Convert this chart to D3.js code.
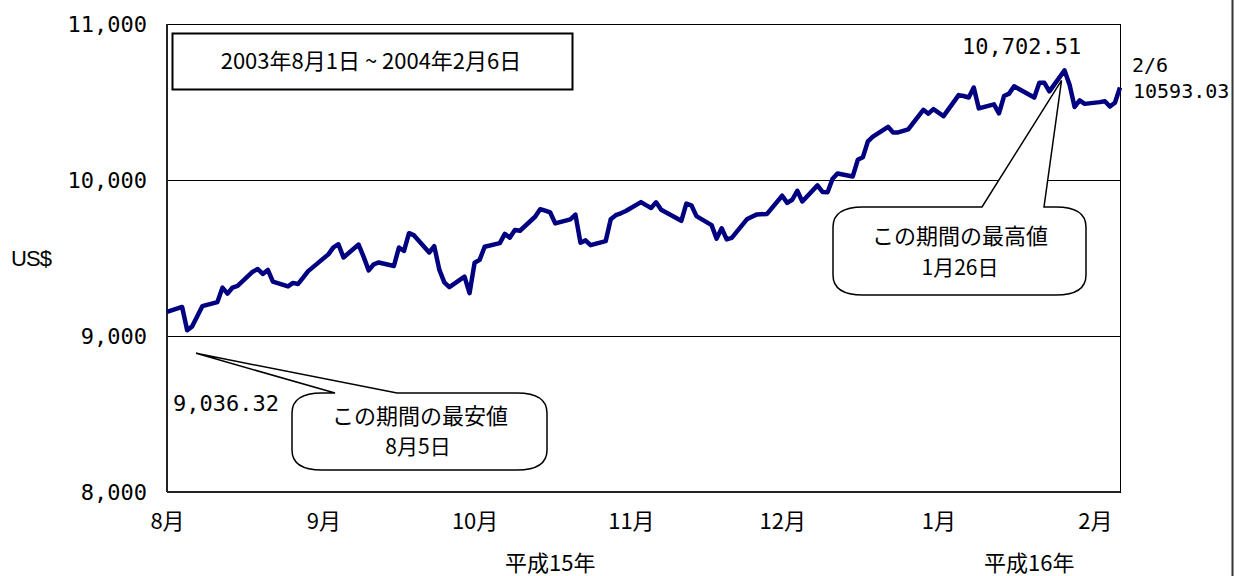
<!DOCTYPE html>
<html>
<head>
<meta charset="utf-8">
<script src="https://cdn.jsdelivr.net/npm/d3@7"></script>
<style>
  body { margin: 0; background: #fff; }
  svg { display: block; }
  .mono { font-family: "DejaVu Sans Mono", "Liberation Mono", monospace; }
  .jp { font-family: "Noto Sans CJK JP", "Noto Sans", sans-serif; }
</style>
</head>
<body>
<svg id="mainSVG"></svg>
<script>
// DJIA daily closes, 2003/8/1 - 2004/2/6
let dates = [
  "2003-08-01","2003-08-04","2003-08-05","2003-08-06","2003-08-07","2003-08-08","2003-08-11","2003-08-12","2003-08-13","2003-08-14",
  "2003-08-15","2003-08-18","2003-08-19","2003-08-20","2003-08-21","2003-08-22","2003-08-25","2003-08-26","2003-08-27","2003-08-28",
  "2003-08-29","2003-09-02","2003-09-03","2003-09-04","2003-09-05","2003-09-08","2003-09-09","2003-09-10","2003-09-11","2003-09-12",
  "2003-09-15","2003-09-16","2003-09-17","2003-09-18","2003-09-19","2003-09-22","2003-09-23","2003-09-24","2003-09-25","2003-09-26",
  "2003-09-29","2003-09-30","2003-10-01","2003-10-02","2003-10-03","2003-10-06","2003-10-07","2003-10-08","2003-10-09","2003-10-10",
  "2003-10-13","2003-10-14","2003-10-15","2003-10-16","2003-10-17","2003-10-20","2003-10-21","2003-10-22","2003-10-23","2003-10-24",
  "2003-10-27","2003-10-28","2003-10-29","2003-10-30","2003-10-31","2003-11-03","2003-11-04","2003-11-05","2003-11-06","2003-11-07",
  "2003-11-10","2003-11-11","2003-11-12","2003-11-13","2003-11-14","2003-11-17","2003-11-18","2003-11-19","2003-11-20","2003-11-21",
  "2003-11-24","2003-11-25","2003-11-26","2003-11-28","2003-12-01","2003-12-02","2003-12-03","2003-12-04","2003-12-05","2003-12-08",
  "2003-12-09","2003-12-10","2003-12-11","2003-12-12","2003-12-15","2003-12-16","2003-12-17","2003-12-18","2003-12-19","2003-12-22",
  "2003-12-23","2003-12-24","2003-12-26","2003-12-29","2003-12-30","2003-12-31","2004-01-02","2004-01-05","2004-01-06","2004-01-07",
  "2004-01-08","2004-01-09","2004-01-12","2004-01-13","2004-01-14","2004-01-15","2004-01-16","2004-01-20","2004-01-21","2004-01-22",
  "2004-01-23","2004-01-26","2004-01-27","2004-01-28","2004-01-29","2004-01-30","2004-02-02","2004-02-03","2004-02-04","2004-02-05",
  "2004-02-06"
]
let closes = [
  9153.97, 9186.04, 9036.32, 9061.74, 9126.45, 9191.09, 9217.35, 9310.06, 9271.76, 9310.56,
  9321.69, 9412.45, 9428.90, 9397.51, 9423.68, 9348.87, 9317.64, 9340.45, 9333.79, 9374.21,
  9415.82, 9523.27, 9568.46, 9587.90, 9503.34, 9586.29, 9507.20, 9420.46, 9459.76, 9471.55,
  9448.81, 9567.34, 9545.65, 9659.13, 9644.82, 9535.41, 9576.04, 9425.51, 9343.96, 9313.08,
  9380.24, 9275.06, 9469.20, 9487.80, 9572.31, 9594.98, 9654.61, 9630.90, 9680.01, 9674.68,
  9764.38, 9812.98, 9803.05, 9791.72, 9721.79, 9747.64, 9777.94, 9598.24, 9613.13, 9582.46,
  9608.16, 9748.31, 9774.53, 9786.61, 9801.12, 9858.46, 9838.83, 9820.83, 9856.97, 9809.79,
  9756.53, 9737.79, 9848.83, 9837.94, 9768.68, 9710.83, 9624.16, 9690.46, 9619.42, 9628.53,
  9747.79, 9763.94, 9779.57, 9782.46, 9899.05, 9853.64, 9873.42, 9930.82, 9862.68, 9965.27,
  9923.42, 9921.86, 10008.16, 10042.16, 10022.82, 10129.56, 10145.26, 10248.08, 10278.22, 10341.26,
  10305.19, 10305.19, 10324.67, 10450.00, 10425.04, 10453.92, 10409.85, 10544.07, 10538.66, 10529.03,
  10592.44, 10458.89, 10485.18, 10427.18, 10538.37, 10553.85, 10600.51, 10528.66, 10623.62, 10623.18,
  10568.29, 10702.51, 10609.92, 10468.37, 10510.29, 10488.07, 10499.18, 10505.18, 10470.74, 10495.55,
  10593.03
]
let yTicks = [8000, 9000, 10000, 11000]
let monthTicks = ["2003-08-01","2003-09-01","2003-10-01","2003-11-01","2003-12-01","2004-01-01","2004-02-01"]
let monthLabels = ["8月","9月","10月","11月","12月","1月","2月"]
let eraLabels = ["平成15年","平成16年"]
let eraDates = ["2003-10-16","2004-01-19"]

let W = 1241, H = 576
let m = {t: 24, r: 121, b: 84, l: 167}
let parse = d3.timeParse("%Y-%m-%d")
let data = dates.map((d, i) => ({date: parse(d), value: closes[i]}))

let svg = d3.select('#mainSVG').attr('width', W).attr('height', H)

let x = d3.scaleTime()
  .domain([parse("2003-08-01"), parse("2004-02-06")])
  .range([m.l, W - m.r])
let y = d3.scaleLinear()
  .domain([8000, 11000])
  .range([H - m.b, m.t])

// outer frame line on the right
svg.append('line')
  .attr('x1', 1232.5).attr('x2', 1232.5).attr('y1', 0).attr('y2', H)
  .attr('stroke', '#333').attr('stroke-width', 2)

// gridlines
svg.append('g')
  .selectAll('line')
  .data(yTicks.slice(1, -1))
  .join('line')
  .attr('x1', m.l).attr('x2', W - m.r)
  .attr('y1', d => Math.round(y(d)) + 0.5).attr('y2', d => Math.round(y(d)) + 0.5)
  .attr('stroke', '#000').attr('stroke-width', 1)

// plot border
svg.append('rect')
  .attr('x', m.l + 0.5).attr('y', m.t + 0.5)
  .attr('width', W - m.r - m.l).attr('height', H - m.b - m.t)
  .attr('fill', 'none').attr('stroke', '#000').attr('stroke-width', 1)
svg.append('line')
  .attr('x1', m.l).attr('x2', m.l).attr('y1', m.t).attr('y2', H - m.b)
  .attr('stroke', '#222').attr('stroke-width', 2)
svg.append('line')
  .attr('x1', m.l).attr('x2', W - m.r).attr('y1', H - m.b).attr('y2', H - m.b)
  .attr('stroke', '#222').attr('stroke-width', 2)

// y axis labels
let yAxis = svg.append('g')
  .attr('transform', `translate(${m.l}, 0)`)
  .call(d3.axisLeft(y).tickValues(yTicks).tickFormat(d3.format(',')).tickSize(0).tickPadding(20))
yAxis.select('.domain').remove()
yAxis.selectAll('text')
  .attr('class', 'mono')
  .attr('font-size', 22).attr('fill', '#000')

svg.append('text')
  .attr('x', 11).attr('y', 258).attr('dy', '0.35em')
  .attr('font-family', '"Liberation Sans", Arial, sans-serif')
  .attr('font-size', 22)
  .attr('textLength', 41)
  .text('US$')

// x axis month labels
let xAxis = svg.append('g')
  .attr('transform', `translate(0, ${H - m.b})`)
  .call(d3.axisBottom(x).tickValues(monthTicks.map(parse))
    .tickFormat((d, i) => monthLabels[i]).tickSize(0).tickPadding(21))
xAxis.select('.domain').remove()
xAxis.selectAll('text')
  .attr('class', 'jp')
  .attr('font-size', 22).attr('fill', '#000')

svg.append('g')
  .selectAll('text')
  .data(eraLabels)
  .join('text')
  .attr('class', 'jp')
  .attr('x', (d, i) => x(parse(eraDates[i])))
  .attr('y', 563).attr('dy', '0.35em')
  .attr('text-anchor', 'middle')
  .attr('font-size', 22)
  .text(d => d)

// period box
svg.append('rect')
  .attr('x', 172.5).attr('y', 33.5).attr('width', 400).attr('height', 56)
  .attr('fill', '#fff').attr('stroke', '#000').attr('stroke-width', 2)
svg.append('text')
  .attr('class', 'jp')
  .attr('x', 371).attr('y', 61).attr('dy', '0.35em')
  .attr('text-anchor', 'middle').attr('font-size', 22)
  .text('2003年8月1日 ~ 2004年2月6日')

// callouts
function calloutPath(x0, y0, x1, y1, rx, ry, a, b, tx, ty) {
  return `M${x0 + rx},${y0} L${a},${y0} L${tx},${ty} L${b},${y0} L${x1 - rx},${y0}
    Q${x1},${y0} ${x1},${y0 + ry} L${x1},${y1 - ry} Q${x1},${y1} ${x1 - rx},${y1}
    L${x0 + rx},${y1} Q${x0},${y1} ${x0},${y1 - ry} L${x0},${y0 + ry} Q${x0},${y0} ${x0 + rx},${y0} Z`
}

let lo = data.reduce((p, c) => c.value < p.value ? c : p)
let hi = data.reduce((p, c) => c.value > p.value ? c : p)
let last = data[data.length - 1]

let loTip = [x(lo.date) + 9, y(lo.value) + 23]
svg.append('path')
  .attr('d', calloutPath(292, 393, 547, 470, 30, 20, 335, 397, loTip[0], loTip[1]))
  .attr('fill', '#fff').attr('stroke', '#000').attr('stroke-width', 1.5)
svg.append('text').attr('class', 'jp')
  .attr('x', 420).attr('y', 416).attr('dy', '0.35em')
  .attr('text-anchor', 'middle').attr('font-size', 22)
  .text('この期間の最安値')
svg.append('text').attr('class', 'jp')
  .attr('x', 418).attr('y', 447).attr('dy', '0.35em')
  .attr('text-anchor', 'middle').attr('font-size', 21)
  .text('8月5日')

let hiTip = [x(hi.date) - 3, y(hi.value) + 10]
svg.append('path')
  .attr('d', calloutPath(833, 207, 1086, 295, 30, 20, 982, 1044, hiTip[0], hiTip[1]))
  .attr('fill', '#fff').attr('stroke', '#000').attr('stroke-width', 1.5)
svg.append('text').attr('class', 'jp')
  .attr('x', 960).attr('y', 236).attr('dy', '0.35em')
  .attr('text-anchor', 'middle').attr('font-size', 22)
  .text('この期間の最高値')
svg.append('text').attr('class', 'jp')
  .attr('x', 960).attr('y', 268).attr('dy', '0.35em')
  .attr('text-anchor', 'middle').attr('font-size', 21)
  .text('1月26日')

// the line
svg.append('path')
  .datum(data)
  .attr('fill', 'none')
  .attr('stroke', '#000080')
  .attr('stroke-width', 4.5)
  .attr('stroke-linejoin', 'round')
  .attr('d', d3.line().x(d => x(d.date)).y(d => y(d.value)))

// value labels
svg.append('text').attr('class', 'mono')
  .attr('x', 173).attr('y', 403).attr('dy', '0.35em')
  .attr('font-size', 22)
  .text(d3.format(',.2f')(lo.value))
svg.append('text').attr('class', 'mono')
  .attr('x', 962).attr('y', 46).attr('dy', '0.35em')
  .attr('font-size', 22)
  .text(d3.format(',.2f')(hi.value))
svg.append('text').attr('class', 'mono')
  .attr('x', 1132).attr('y', 65).attr('dy', '0.35em')
  .attr('font-size', 20)
  .text(d3.timeFormat('%-m/%-d')(last.date))
svg.append('text').attr('class', 'mono')
  .attr('x', 1133).attr('y', 91).attr('dy', '0.35em')
  .attr('font-size', 20)
  .text(d3.format('.2f')(last.value))
</script>
</body>
</html>
